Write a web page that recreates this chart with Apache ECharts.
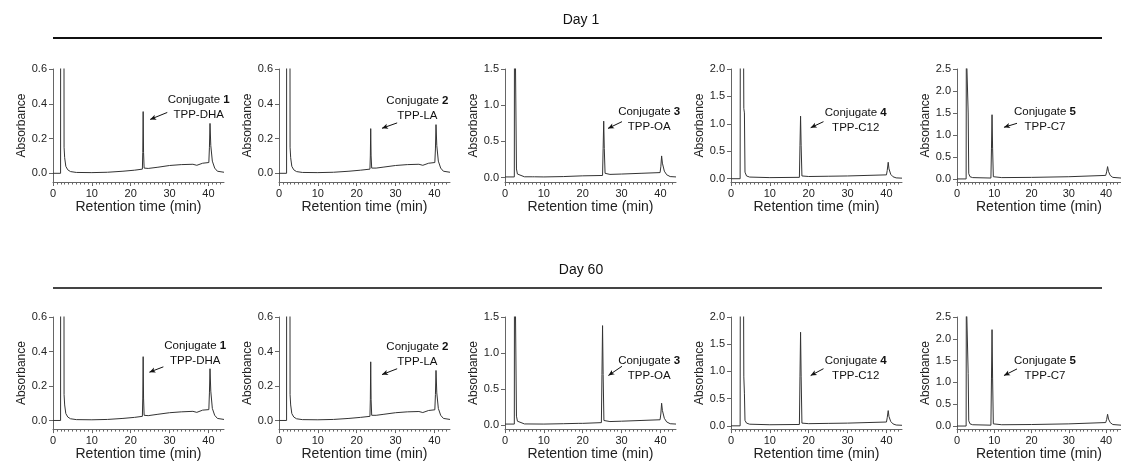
<!DOCTYPE html>
<html lang="en">
<head>
<meta charset="UTF-8">
<title>HPLC stability of conjugates</title>
<script src="https://cdn.jsdelivr.net/npm/echarts@6/dist/echarts.min.js"></script>
<style>
html, body { margin: 0; padding: 0; background: #fff; }
#main { width: 1121px; height: 462px; }
</style>
</head>
<body>
<div id="main"></div>
<script>
// panel texts
var dayTitles = ['Day 1', 'Day 60'];
var conjNum = ['1', '2', '3', '4', '5'];
var conjName = ['TPP-DHA', 'TPP-LA', 'TPP-OA', 'TPP-C12', 'TPP-C7'];

// axes
var xTicks = [0, 10, 20, 30, 40];
var xMax = 44;
var yTicks = [
    [0, 0.2, 0.4, 0.6],
    [0, 0.2, 0.4, 0.6],
    [0, 0.5, 1.0, 1.5],
    [0, 0.5, 1.0, 1.5, 2.0],
    [0, 0.5, 1.0, 1.5, 2.0, 2.5]
];
var yMin = [-0.05, -0.05, -0.06, -0.06, -0.07];

// chromatograms [time (min), absorbance]
var d1c1 = [[0,0],[1.95,0],[2.0,3],[2.75,3],[2.85,0.15],[3.0,0.09],[3.3,0.04],[3.8,0.02],[4.5,0.01],[6,0.005],[10,0.004],[14,0.006],[18,0.012],[21,0.018],[23.0,0.024],[23.1,0.12],[23.2,0.355],[23.3,0.12],[23.45,0.03],[24.5,0.028],[27,0.035],[30,0.045],[33,0.05],[36,0.052],[37,0.046],[37.5,0.05],[38.5,0.058],[40.1,0.062],[40.25,0.15],[40.4,0.287],[40.6,0.16],[41.0,0.07],[41.6,0.03],[42.3,0.012],[44,0.006]];
var d1c2 = [[0,0],[1.95,0],[2.0,3],[2.75,3],[2.85,0.15],[3.0,0.09],[3.3,0.04],[3.8,0.02],[4.5,0.01],[6,0.005],[10,0.004],[14,0.006],[18,0.012],[21,0.018],[23.4,0.024],[23.5,0.1],[23.6,0.257],[23.7,0.1],[23.85,0.03],[25,0.03],[27,0.036],[30,0.045],[33,0.05],[36,0.052],[37,0.046],[37.5,0.05],[38.5,0.058],[40.1,0.062],[40.25,0.14],[40.4,0.28],[40.6,0.16],[41.0,0.07],[41.6,0.03],[42.3,0.012],[44,0.006]];
var d1c3 = [[0,0.01],[2.4,0.01],[2.45,3],[2.85,3],[2.95,0.12],[3.2,0.05],[3.6,0.03],[5,0.012],[7.0,0.012],[7.3,0.03],[7.6,0.012],[10,0.01],[15,0.015],[20,0.025],[25.1,0.03],[25.25,0.4],[25.4,0.78],[25.55,0.4],[25.75,0.06],[27,0.045],[30,0.05],[35,0.06],[39.9,0.07],[40.1,0.15],[40.3,0.3],[40.5,0.2],[41.0,0.09],[41.6,0.04],[42.5,0.015],[44,0.01]];
var d1c4 = [[0,0],[2.35,0],[2.4,3],[3.2,3],[3.3,1.28],[3.45,1.2],[3.6,0.12],[4.0,0.05],[4.8,0.03],[10,0.02],[17.6,0.025],[17.75,0.6],[17.9,1.14],[18.05,0.6],[18.25,0.05],[20,0.04],[25,0.045],[30,0.05],[35,0.06],[40.0,0.07],[40.2,0.15],[40.45,0.3],[40.65,0.18],[41.1,0.08],[41.7,0.035],[42.5,0.015],[44,0.01]];
var d1c5 = [[0,0],[2.45,0],[2.5,3],[2.9,3],[3.0,1.5],[3.15,0.12],[3.5,0.05],[4.2,0.03],[9.1,0.02],[9.25,0.7],[9.4,1.46],[9.55,0.7],[9.75,0.05],[12,0.03],[20,0.035],[30,0.05],[39.9,0.08],[40.15,0.16],[40.4,0.28],[40.65,0.17],[41.1,0.08],[41.8,0.035],[44,0.02]];
var d60c1 = [[0,0],[1.95,0],[2.0,3],[2.75,3],[2.85,0.15],[3.0,0.09],[3.3,0.04],[3.8,0.02],[4.5,0.01],[6,0.005],[10,0.004],[14,0.006],[18,0.012],[21,0.018],[23.0,0.024],[23.1,0.13],[23.2,0.37],[23.3,0.13],[23.45,0.03],[24.5,0.028],[27,0.036],[30,0.045],[33,0.05],[36,0.053],[37,0.047],[37.5,0.05],[38.5,0.06],[40.1,0.063],[40.25,0.16],[40.4,0.30],[40.6,0.17],[41.0,0.07],[41.6,0.03],[42.3,0.012],[44,0.006]];
var d60c2 = [[0,0],[1.95,0],[2.0,3],[2.75,3],[2.85,0.15],[3.0,0.09],[3.3,0.04],[3.8,0.02],[4.5,0.01],[6,0.005],[10,0.004],[14,0.006],[18,0.012],[21,0.018],[23.4,0.024],[23.5,0.12],[23.6,0.34],[23.7,0.12],[23.85,0.03],[25,0.03],[27,0.036],[30,0.045],[33,0.05],[36,0.052],[37,0.046],[37.5,0.05],[38.5,0.058],[40.1,0.062],[40.25,0.15],[40.4,0.29],[40.6,0.16],[41.0,0.07],[41.6,0.03],[42.3,0.012],[44,0.006]];
var d60c3 = [[0,0.01],[2.4,0.01],[2.45,3],[2.85,3],[2.95,0.12],[3.2,0.05],[3.6,0.03],[5,0.012],[10,0.01],[15,0.015],[19,0.02],[19.5,0.03],[20,0.02],[24.8,0.03],[24.95,0.7],[25.1,1.38],[25.25,0.7],[25.45,0.06],[27,0.045],[30,0.05],[35,0.06],[39.9,0.07],[40.1,0.15],[40.3,0.3],[40.5,0.2],[41.0,0.09],[41.6,0.04],[42.5,0.015],[44,0.01]];
var d60c4 = [[0,0],[2.35,0],[2.4,3],[3.2,3],[3.3,0.9],[3.45,0.6],[3.6,0.1],[4.0,0.05],[4.8,0.03],[10,0.02],[17.6,0.025],[17.75,0.9],[17.9,1.72],[18.05,0.9],[18.25,0.05],[20,0.04],[25,0.045],[30,0.05],[35,0.06],[40.0,0.07],[40.2,0.15],[40.45,0.28],[40.65,0.17],[41.1,0.08],[41.7,0.035],[42.5,0.015],[44,0.01]];
var d60c5 = [[0,0],[2.45,0],[2.5,3],[2.9,3],[3.0,1.2],[3.15,0.12],[3.5,0.05],[4.2,0.03],[9.1,0.02],[9.25,1.1],[9.4,2.21],[9.55,1.1],[9.75,0.05],[12,0.03],[20,0.035],[30,0.05],[39.9,0.08],[40.15,0.15],[40.4,0.27],[40.65,0.16],[41.1,0.08],[41.8,0.035],[44,0.02]];
var day1 = [d1c1, d1c2, d1c3, d1c4, d1c5];
var day60 = [d60c1, d60c2, d60c3, d60c4, d60c5];

// annotation anchors in data units: label centre, arrow tail, arrow head
var labelAt1 = [[37.5,0.379],[35.6,0.376],[37.1,0.80],[32.1,1.07],[23.6,1.358]];
var arrowFrom1 = [[29.4,0.35],[30.4,0.29],[30.1,0.773],[23.8,1.04],[16.1,1.265]];
var arrowTo1 = [[25.0,0.31],[26.5,0.259],[26.5,0.68],[20.5,0.93],[12.6,1.174]];
var labelAt60 = [[36.6,0.389],[35.6,0.384],[37.1,0.785],[32.1,1.06],[23.6,1.333]];
var arrowFrom60 = [[28.4,0.311],[30.4,0.30],[30.1,0.814],[23.8,1.05],[16.1,1.31]];
var arrowTo60 = [[24.8,0.28],[26.5,0.266],[26.6,0.686],[20.5,0.924],[12.6,1.158]];

var FONT = 'Liberation Sans, Arial, Helvetica, sans-serif';
var lefts = [53, 279, 505, 731, 957];
var tops = [69, 317];
var gw = 171, gh = 113;

var minorX = [];
for (var m = 1; m < xMax; m++) if (m % 10 !== 0) minorX.push(m);

var grids = [], xAxes = [], yAxes = [], series = [];
[day1, day60].forEach(function (rows, r) {
    var labAt = r === 0 ? labelAt1 : labelAt60;
    var aFrom = r === 0 ? arrowFrom1 : arrowFrom60;
    var aTo = r === 0 ? arrowTo1 : arrowTo60;
    rows.forEach(function (d, i) {
        var g = grids.length;
        grids.push({ left: lefts[i], top: tops[r], width: gw, height: gh });
        var yMax = yTicks[i][yTicks[i].length - 1];
        xAxes.push({
            type: 'value', gridIndex: g, min: 0, max: xMax, position: 'bottom',
            name: 'Retention time (min)', nameLocation: 'middle', nameGap: 13,
            nameTextStyle: { fontFamily: FONT, fontSize: 14, color: '#222' },
            axisLine: { onZero: false, lineStyle: { color: '#666', width: 1 } },
            axisTick: { customValues: xTicks, length: 4, lineStyle: { color: '#666' } },
            axisLabel: { customValues: xTicks, margin: 6, fontFamily: FONT, fontSize: 11, color: '#222' },
            splitLine: { show: false }
        });
        xAxes.push({
            type: 'value', gridIndex: g, min: 0, max: xMax, position: 'bottom',
            axisLine: { show: false, onZero: false },
            axisTick: { customValues: minorX, length: 2.5, lineStyle: { color: '#666' } },
            axisLabel: { show: false },
            splitLine: { show: false }
        });
        yAxes.push({
            type: 'value', gridIndex: g, min: yMin[i], max: yMax,
            name: 'Absorbance', nameLocation: 'middle', nameGap: 17,
            nameTextStyle: { fontFamily: FONT, fontSize: 12, color: '#222' },
            axisLine: { show: true, onZero: false, lineStyle: { color: '#666', width: 1 } },
            axisTick: { show: true, customValues: yTicks[i], length: 4, lineStyle: { color: '#666' } },
            axisLabel: {
                customValues: yTicks[i], margin: 6, fontFamily: FONT, fontSize: 11, color: '#222',
                formatter: function (v) { return v.toFixed(1); }
            },
            splitLine: { show: false }
        });
        series.push({
            type: 'line', xAxisIndex: 2 * g, yAxisIndex: g, data: d,
            symbol: 'none', showSymbol: false, clip: true, silent: true, animation: false,
            lineStyle: { color: '#333', width: 1 },
            markPoint: {
                silent: true, animation: false, symbol: 'circle', symbolSize: 1,
                itemStyle: { color: 'rgba(0,0,0,0)' },
                data: [{
                    coord: labAt[i],
                    label: {
                        show: true, position: 'inside', align: 'center', verticalAlign: 'middle',
                        formatter: '{a|Conjugate }{b|' + conjNum[i] + '}\n{a|' + conjName[i] + '}',
                        rich: {
                            a: { fontFamily: FONT, fontSize: 11.5, color: '#111', lineHeight: 15 },
                            b: { fontFamily: FONT, fontSize: 11.5, color: '#111', fontWeight: 'bold', lineHeight: 15 }
                        }
                    }
                }]
            },
            markLine: {
                silent: true, animation: false, symbol: ['none', 'arrow'], symbolSize: [4, 6],
                lineStyle: { color: '#111', width: 1, type: 'solid' },
                label: { show: false },
                data: [[{ coord: aFrom[i] }, { coord: aTo[i] }]]
            }
        });
    });
});

var chart = echarts.init(document.getElementById('main'));
chart.setOption({
    animation: false,
    backgroundColor: '#fff',
    title: [
        { text: dayTitles[0], left: 576, top: 8, textAlign: 'center', textStyle: { fontFamily: FONT, fontSize: 14, fontWeight: 'normal', color: '#111' } },
        { text: dayTitles[1], left: 576, top: 258, textAlign: 'center', textStyle: { fontFamily: FONT, fontSize: 14, fontWeight: 'normal', color: '#111' } }
    ],
    graphic: [
        { type: 'line', shape: { x1: 53, y1: 38, x2: 1102, y2: 38 }, style: { stroke: '#111', lineWidth: 2 } },
        { type: 'line', shape: { x1: 53, y1: 288, x2: 1102, y2: 288 }, style: { stroke: '#444', lineWidth: 2 } }
    ],
    grid: grids,
    xAxis: xAxes,
    yAxis: yAxes,
    series: series
});
</script>
</body>
</html>
